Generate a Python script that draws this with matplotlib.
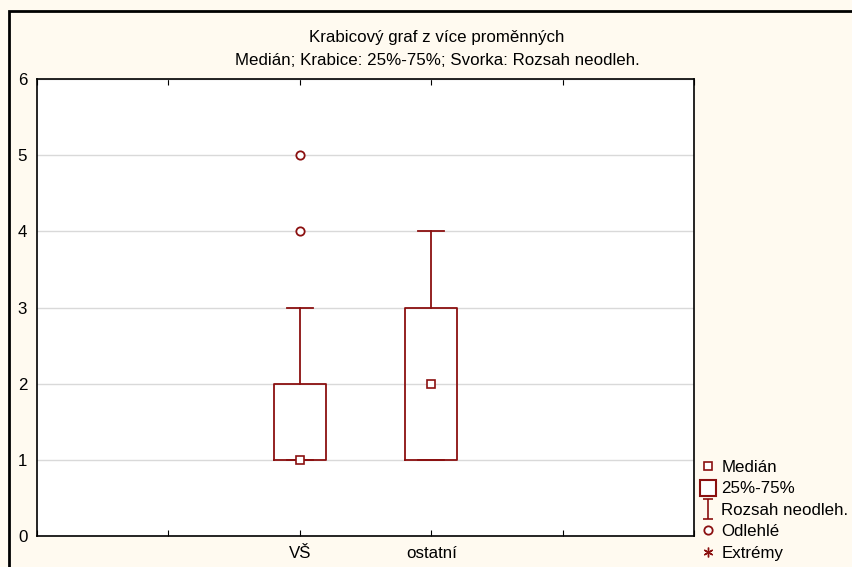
import matplotlib
matplotlib.use('Agg')
import matplotlib.pyplot as plt
from matplotlib.lines import Line2D
from matplotlib.patches import Rectangle
from matplotlib.path import Path

plt.rcParams['font.family'] = ['Liberation Sans', 'DejaVu Sans']

# data
categories = ['VŠ', 'ostatní']
positions = [2, 3]
medians = [1, 2]
q1 = [1, 1]
q3 = [2, 3]
whisker_low = [1, 1]
whisker_high = [3, 4]
outliers = [[4, 5], []]

title = 'Krabicový graf z více proměnných\nMedián; Krabice: 25%-75%; Svorka: Rozsah neodleh.'
legend_labels = ['Medián', '25%-75%', 'Rozsah neodleh.', 'Odlehlé', 'Extrémy']

red = '#8B1010'
bg = '#FFFAF0'
fs = 12.2

fig = plt.figure(figsize=(8.53, 5.67), dpi=100, facecolor=bg)
# outer frame like Statistica
fig.patches.append(Rectangle((9 / 853, -0.1), 1.2, (567 - 11) / 567 + 0.1,
                             transform=fig.transFigure, fill=False,
                             edgecolor='black', linewidth=2))

ax = fig.add_axes([37 / 853, 1 - 536 / 567, (694 - 37) / 853, (536 - 79) / 567])
ax.set_facecolor('white')

stats = []
for i in range(len(categories)):
    stats.append({'med': medians[i], 'q1': q1[i], 'q3': q3[i],
                  'whislo': whisker_low[i], 'whishi': whisker_high[i],
                  'fliers': outliers[i], 'mean': medians[i], 'label': categories[i]})

ax.bxp(stats, positions=positions, widths=0.4, showmeans=True, capwidths=0.2,
       boxprops=dict(color=red, linewidth=1.3),
       whiskerprops=dict(color=red, linewidth=1.3),
       capprops=dict(color=red, linewidth=1.3),
       medianprops=dict(linewidth=0),
       meanprops=dict(marker='s', markersize=6, markerfacecolor='white',
                      markeredgecolor=red, markeredgewidth=1.2),
       flierprops=dict(marker='o', markersize=6, markerfacecolor='white',
                       markeredgecolor=red, markeredgewidth=1.3),
       patch_artist=False, zorder=3)

ax.set_xlim(0, 5)
ax.set_ylim(0, 6)
ax.set_xticks([0, 1, 2, 3, 4, 5])
ax.set_xticklabels(['', '', categories[0], categories[1], '', ''])
ax.set_yticks(range(7))
ax.yaxis.grid(True, color='#D9D9D9', linewidth=1, zorder=0)
ax.set_axisbelow(True)
ax.tick_params(axis='x', direction='in', length=4, top=True, labelsize=fs, pad=7)
ax.tick_params(axis='y', length=0, labelsize=fs, pad=7)
for s in ax.spines.values():
    s.set_linewidth(1.2)

fig.text(437 / 853, 1 - 49 / 567, title, ha='center', va='center',
         fontsize=fs, linespacing=1.6)

ibeam = Path([(-0.5, 1), (0.5, 1), (0, 1), (0, -1), (-0.5, -1), (0.5, -1)],
             [Path.MOVETO, Path.LINETO, Path.MOVETO, Path.LINETO, Path.MOVETO, Path.LINETO])
handles = [
    Line2D([], [], linestyle='none', marker='s', markersize=6, markerfacecolor='white',
           markeredgecolor=red, markeredgewidth=1.2),
    Line2D([], [], linestyle='none', marker='s', markersize=12, markerfacecolor='white',
           markeredgecolor=red, markeredgewidth=1.5),
    Line2D([], [], linestyle='none', marker=ibeam, markersize=14, markeredgecolor=red,
           markeredgewidth=1.2),
    Line2D([], [], linestyle='none', marker='o', markersize=6, markerfacecolor='white',
           markeredgecolor=red, markeredgewidth=1.3),
    Line2D([], [], linestyle='none', marker=(6, 2, 0), markersize=7, markeredgecolor=red,
           markeredgewidth=1.0),
]
fig.legend(handles, legend_labels, loc='upper left',
           bbox_to_anchor=(701 / 853, 1 - 460 / 567), frameon=False, fontsize=fs,
           handlelength=0.8, handletextpad=0.4, labelspacing=0.38, borderpad=0,
           borderaxespad=0)

fig.savefig('out.png', dpi=100, facecolor=bg)
